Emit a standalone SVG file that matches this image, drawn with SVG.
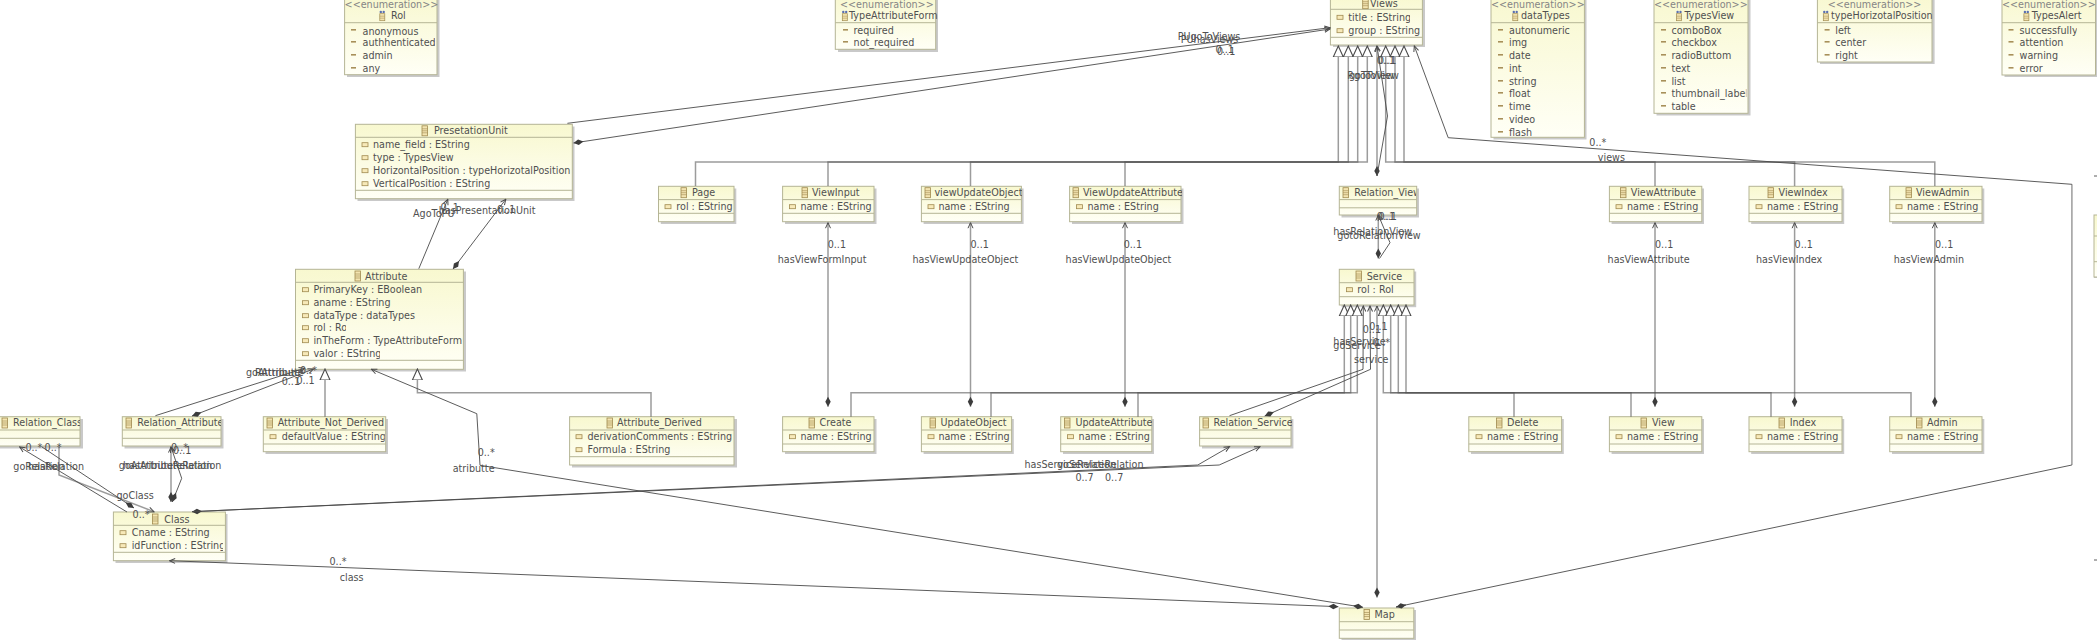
<svg xmlns="http://www.w3.org/2000/svg" width="2097" height="640" viewBox="0 0 2097 640">
<style>
text{font-family:"DejaVu Sans","Liberation Sans",sans-serif;font-size:9.6px;fill:#505050}
.st{fill:#858585}
.s{fill:#c9c9c9}
.b{fill:url(#nf);stroke:#b5b595;stroke-width:1}
.d{stroke:#b5b595;stroke-width:1}
.g{fill:none;stroke:#555;stroke-opacity:.58;stroke-width:1.5}
.a{fill:none;stroke:#4a4a4a;stroke-width:.9}
.gen{marker-end:url(#tri)}
.ar{marker-end:url(#arr)}
.di{marker-start:url(#dia)}
</style>
<defs>
<linearGradient id="nf" x1="0" y1="0" x2="0" y2="1"><stop offset="0" stop-color="#f8f8cf"/><stop offset="1" stop-color="#fffff6"/></linearGradient>
<marker id="tri" viewBox="0 -6 12 12" refX="0" refY="0" markerWidth="12" markerHeight="12" markerUnits="userSpaceOnUse" orient="auto"><path d="M0,-5L11,0L0,5z" fill="#fff" stroke="#4a4a4a" stroke-width="1.1"/></marker>
<marker id="arr" viewBox="-7 -4 8 8" refX="0" refY="0" markerWidth="8" markerHeight="8" markerUnits="userSpaceOnUse" orient="auto"><path d="M-5.5,-2.5L0,0L-5.5,2.5" fill="none" stroke="#4a4a4a" stroke-width="1"/></marker>
<marker id="dia" viewBox="0 -4 12 8" refX="0" refY="0" markerWidth="12" markerHeight="8" markerUnits="userSpaceOnUse" orient="auto"><path d="M0,0L5,-2.7L10,0L5,2.7z" fill="#3c3c3c"/></marker>
<g id="ci"><rect x="0" y="0" width="5.5" height="10" fill="#f3e4b0" stroke="#a08a50" stroke-width=".8"/><path d="M0,3H5.5M0,5H5.5M0,7H5.5" stroke="#a08a50" stroke-width=".6"/></g>
<g id="en"><circle cx="1.3" cy="1.2" r="1.2" fill="#5a6fb0"/><circle cx="4.2" cy="1.2" r="1.2" fill="#5a6fb0"/><rect x=".3" y="3" width="5" height="7" fill="#f3e4b0" stroke="#a08a50" stroke-width=".7"/><path d="M.3,5.5H5.3M.3,7.5H5.3" stroke="#a08a50" stroke-width=".5"/></g>
<rect id="ai" width="6" height="4" fill="#f7e9b8" stroke="#a08a50" stroke-width=".8"/>
<rect id="li" width="5" height="1.6" fill="#a8905a"/>
<clipPath id="k435"><rect x="0" y="-10" width="435" height="660"/></clipPath>
<clipPath id="k570"><rect x="0" y="-10" width="570.5" height="660"/></clipPath>
<clipPath id="k490"><rect x="0" y="-10" width="490" height="660"/></clipPath>
<clipPath id="k346"><rect x="0" y="-10" width="346" height="660"/></clipPath>
<clipPath id="k380"><rect x="0" y="-10" width="380" height="660"/></clipPath>
<clipPath id="k82"><rect x="0" y="-10" width="80" height="660"/></clipPath>
<clipPath id="k221"><rect x="0" y="-10" width="221" height="660"/></clipPath>
<clipPath id="k385"><rect x="0" y="-10" width="384.8" height="660"/></clipPath>
<clipPath id="k734"><rect x="0" y="-10" width="733" height="660"/></clipPath>
<clipPath id="k223"><rect x="0" y="-10" width="223" height="660"/></clipPath>
<clipPath id="k1410"><rect x="0" y="-10" width="1410" height="660"/></clipPath>
<clipPath id="k1420"><rect x="0" y="-10" width="1420" height="660"/></clipPath>
<clipPath id="k1415"><rect x="0" y="-10" width="1416" height="660"/></clipPath>
<clipPath id="k1292"><rect x="0" y="-10" width="1292" height="660"/></clipPath>
<clipPath id="k1746"><rect x="0" y="-10" width="1746.4" height="660"/></clipPath>
<clipPath id="k1933"><rect x="0" y="-10" width="1933" height="660"/></clipPath>
<clipPath id="k2077"><rect x="0" y="-10" width="2076.8" height="660"/></clipPath>
<clipPath id="k1152"><rect x="0" y="-10" width="1152" height="660"/></clipPath>
<clipPath id="k1021"><rect x="0" y="-10" width="1022" height="660"/></clipPath>
<clipPath id="k1181"><rect x="0" y="-10" width="1182" height="660"/></clipPath>
</defs>
<rect width="2097" height="640" fill="#fff"/>

<g id="n-Rol"><rect class="s" x="347" y="-3" width="92.5" height="80"/><rect class="b" x="344.6" y="-5" width="92.4" height="79.7"/><line class="d" x1="344.6" x2="437" y1="22.7" y2="22.7"/>
<text class="st" x="344.6" y="7.5">&lt;&lt;enumeration&gt;&gt;</text><use href="#en" x="379.5" y="10.7"/><text x="391" y="19.2">Rol</text>
<use href="#li" x="351" y="29"/><text x="362.5" y="34.5">anonymous</text>
<use href="#li" x="351" y="41"/><text x="362.5" y="46.2" clip-path="url(#k435)">authhenticated</text>
<use href="#li" x="351" y="54"/><text x="362.5" y="59.2">admin</text>
<use href="#li" x="351" y="67"/><text x="362.5" y="72.2">any</text></g>

<g id="n-TypeAttributeForm"><rect class="s" x="838" y="-3" width="100" height="55"/><rect class="b" x="835.3" y="-5" width="100.4" height="54.3"/><line class="d" x1="835.3" x2="935.7" y1="22.7" y2="22.7"/>
<text class="st" x="840" y="7.5">&lt;&lt;enumeration&gt;&gt;</text><use href="#en" x="842" y="10.7"/><text x="849" y="19.2">TypeAttributeForm</text>
<use href="#li" x="843" y="29"/><text x="853.6" y="34.2">required</text>
<use href="#li" x="843" y="41"/><text x="853.6" y="46.2">not_required</text></g>

<g id="n-Views"><rect class="s" x="1333" y="-2" width="92" height="49"/><rect class="b" x="1330.4" y="-4" width="92" height="49"/><line class="d" x1="1330.4" x2="1422.4" y1="9.3" y2="9.3"/><line class="d" x1="1330.4" x2="1422.4" y1="37.3" y2="37.3"/>
<use href="#ci" x="1362.7" y="-1.3"/><text x="1370" y="7.2">Views</text>
<use href="#ai" x="1337" y="15.3"/><text x="1348.3" y="20.8" clip-path="url(#k1410)">title : EString</text>
<use href="#ai" x="1337" y="28.7"/><text x="1348.3" y="34.2" clip-path="url(#k1420)">group : EString</text></g>

<g id="n-dataTypes"><rect class="s" x="1493.5" y="-3" width="93" height="142.5"/><rect class="b" x="1491" y="-5" width="93.4" height="142.3"/><line class="d" x1="1491" x2="1584.4" y1="22.7" y2="22.7"/>
<text class="st" x="1491" y="7.5">&lt;&lt;enumeration&gt;&gt;</text><use href="#en" x="1512.5" y="10.7"/><text x="1521" y="19.2">dataTypes</text>
<use href="#li" x="1498" y="29"/><text x="1509" y="34.2">autonumeric</text>
<use href="#li" x="1498" y="41"/><text x="1509" y="46.2">img</text>
<use href="#li" x="1498" y="54"/><text x="1509" y="59.2">date</text>
<use href="#li" x="1498" y="67"/><text x="1509" y="72.2">int</text>
<use href="#li" x="1498" y="80"/><text x="1509" y="85.2">string</text>
<use href="#li" x="1498" y="92"/><text x="1509" y="97.2">float</text>
<use href="#li" x="1498" y="105"/><text x="1509" y="110.2">time</text>
<use href="#li" x="1498" y="118"/><text x="1509" y="123.2">video</text>
<use href="#li" x="1498" y="131"/><text x="1509" y="136.2">flash</text></g>

<g id="n-TypesView"><rect class="s" x="1656.5" y="-3" width="94" height="118.5"/><rect class="b" x="1654" y="-5" width="94" height="118.3"/><line class="d" x1="1654" x2="1748" y1="22.7" y2="22.7"/>
<text class="st" x="1654" y="7.5">&lt;&lt;enumeration&gt;&gt;</text><use href="#en" x="1676.3" y="10.7"/><text x="1684.4" y="19.2">TypesView</text>
<use href="#li" x="1661" y="29"/><text x="1671.4" y="34.2">comboBox</text>
<use href="#li" x="1661" y="41"/><text x="1671.4" y="46.2">checkbox</text>
<use href="#li" x="1661" y="54"/><text x="1671.4" y="59.2">radioButtom</text>
<use href="#li" x="1661" y="67"/><text x="1671.4" y="72.2">text</text>
<use href="#li" x="1661" y="80"/><text x="1671.4" y="85.2">list</text>
<use href="#li" x="1661" y="92"/><text x="1671.4" y="97.2" clip-path="url(#k1746)">thumbnail_label</text>
<use href="#li" x="1661" y="105"/><text x="1671.4" y="110.2">table</text></g>

<g id="n-typeHorizotalPosition"><rect class="s" x="1820" y="-3" width="114.6" height="67"/><rect class="b" x="1817.4" y="-5" width="114.6" height="67"/><line class="d" x1="1817.4" x2="1932" y1="22.7" y2="22.7"/>
<text class="st" x="1827.7" y="7.5">&lt;&lt;enumeration&gt;&gt;</text><use href="#en" x="1823" y="10.7"/><text x="1831" y="19.2" clip-path="url(#k1933)">typeHorizotalPosition</text>
<use href="#li" x="1824.6" y="29"/><text x="1835.3" y="34.2">left</text>
<use href="#li" x="1824.6" y="41"/><text x="1835.3" y="46.2">center</text>
<use href="#li" x="1824.6" y="54"/><text x="1835.3" y="59.2">right</text></g>

<g id="n-TypesAlert"><rect class="s" x="2004.5" y="-3" width="93" height="80"/><rect class="b" x="2002" y="-5" width="93.5" height="80"/><line class="d" x1="2002" x2="2095.5" y1="22.7" y2="22.7"/>
<text class="st" x="2002" y="7.5">&lt;&lt;enumeration&gt;&gt;</text><use href="#en" x="2023.6" y="10.7"/><text x="2031.7" y="19.2">TypesAlert</text>
<use href="#li" x="2008.5" y="29"/><text x="2019.6" y="34.2" clip-path="url(#k2077)">successfully</text>
<use href="#li" x="2008.5" y="41"/><text x="2019.6" y="46.2">attention</text>
<use href="#li" x="2008.5" y="54"/><text x="2019.6" y="59.2">warning</text>
<use href="#li" x="2008.5" y="67"/><text x="2019.6" y="72.2">error</text></g>

<g id="n-PresetationUnit"><rect class="s" x="357.5" y="126.5" width="217" height="74.5"/><rect class="b" x="355.4" y="124.3" width="216.9" height="74.4"/><line class="d" x1="355.4" x2="572.3" y1="137.3" y2="137.3"/><line class="d" x1="355.4" x2="572.3" y1="190.3" y2="190.3"/>
<use href="#ci" x="422" y="125.8"/><text x="434" y="134.3">PresetationUnit</text>
<use href="#ai" x="362" y="142.7"/><text x="373" y="148.2">name_field : EString</text>
<use href="#ai" x="362" y="155.7"/><text x="373" y="161.2">type : TypesView</text>
<use href="#ai" x="362" y="168.7"/><text x="373" y="174.2" clip-path="url(#k570)">HorizontalPosition : typeHorizotalPosition</text>
<use href="#ai" x="362" y="181.7"/><text x="373" y="187.2" clip-path="url(#k490)">VerticalPosition : EString</text></g>

<g id="n-Attribute"><rect class="s" x="298" y="271.5" width="168" height="100"/><rect class="b" x="295.5" y="269.3" width="167.9" height="100"/><line class="d" x1="295.5" x2="463.4" y1="282.3" y2="282.3"/><line class="d" x1="295.5" x2="463.4" y1="360.3" y2="360.3"/>
<use href="#ci" x="355" y="271"/><text x="365" y="279.5">Attribute</text>
<use href="#ai" x="302.5" y="287.7"/><text x="313.4" y="293.2">PrimaryKey : EBoolean</text>
<use href="#ai" x="302.5" y="300.7"/><text x="313.4" y="306.2">aname : EString</text>
<use href="#ai" x="302.5" y="313.7"/><text x="313.4" y="319.2">dataType : dataTypes</text>
<use href="#ai" x="302.5" y="325.7"/><text x="313.4" y="331.2" clip-path="url(#k346)">rol : Rol</text>
<use href="#ai" x="302.5" y="338.7"/><text x="313.4" y="344.2">inTheForm : TypeAttributeForm</text>
<use href="#ai" x="302.5" y="351.7"/><text x="313.4" y="357.2" clip-path="url(#k380)">valor : EString</text></g>

<g id="n-Relation_Class"><rect class="s" x="0" y="419" width="83" height="29.5"/><rect class="b" x="-1" y="416.7" width="81" height="29.3"/><line class="d" x1="-1" x2="80" y1="430" y2="430"/><line class="d" x1="-1" x2="80" y1="438.3" y2="438.3"/>
<use href="#ci" x="2" y="418"/><text x="13" y="426.2" clip-path="url(#k82)">Relation_Class</text></g>

<g id="n-Relation_Attribute"><rect class="s" x="124.5" y="419" width="99" height="29.5"/><rect class="b" x="122.3" y="416.7" width="98.7" height="29.3"/><line class="d" x1="122.3" x2="221" y1="430" y2="430"/><line class="d" x1="122.3" x2="221" y1="438.3" y2="438.3"/>
<use href="#ci" x="126" y="418"/><text x="137.3" y="426.2" clip-path="url(#k221)">Relation_Attribute</text></g>

<g id="n-Attribute_Not_Derived"><rect class="s" x="265.5" y="419" width="122.5" height="35"/><rect class="b" x="263.3" y="416.7" width="122.4" height="35"/><line class="d" x1="263.3" x2="385.7" y1="430" y2="430"/><line class="d" x1="263.3" x2="385.7" y1="444" y2="444"/>
<use href="#ci" x="267" y="418"/><text x="277.7" y="426.2">Attribute_Not_Derived</text>
<use href="#ai" x="270" y="434.7"/><text x="281.7" y="440.2" clip-path="url(#k385)">defaultValue : EString</text></g>

<g id="n-Attribute_Derived"><rect class="s" x="572" y="419" width="165" height="48.5"/><rect class="b" x="569.6" y="416.7" width="164.4" height="48.3"/><line class="d" x1="569.6" x2="734" y1="430" y2="430"/><line class="d" x1="569.6" x2="734" y1="456.7" y2="456.7"/>
<use href="#ci" x="607" y="418"/><text x="617" y="426.2">Attribute_Derived</text>
<use href="#ai" x="576" y="434.7"/><text x="587.5" y="440.2" clip-path="url(#k734)">derivationComments : EString</text>
<use href="#ai" x="576" y="447.7"/><text x="587.5" y="453.2">Formula : EString</text></g>

<g id="n-Class"><rect class="s" x="115.5" y="514" width="112" height="49"/><rect class="b" x="113.4" y="512" width="112" height="48.7"/><line class="d" x1="113.4" x2="225.4" y1="525.3" y2="525.3"/><line class="d" x1="113.4" x2="225.4" y1="552.3" y2="552.3"/>
<use href="#ci" x="152.5" y="514"/><text x="164.3" y="522.5">Class</text>
<use href="#ai" x="120" y="530.7"/><text x="131.7" y="536.2">Cname : EString</text>
<use href="#ai" x="120" y="543.7"/><text x="131.7" y="549.2" clip-path="url(#k223)">idFunction : EString</text></g>

<g id="n-Page"><rect class="s" x="660.8" y="188.5" width="75.5" height="35.5"/><rect class="b" x="658.5" y="186.3" width="75.5" height="35.4"/><line class="d" x1="658.5" x2="734" y1="199.6" y2="199.6"/><line class="d" x1="658.5" x2="734" y1="213.3" y2="213.3"/>
<use href="#ci" x="681" y="187.7"/><text x="692" y="196.2">Page</text>
<use href="#ai" x="665" y="204.7"/><text x="676.3" y="210.2" clip-path="url(#k734)">rol : EString</text></g>

<g id="n-ViewInput"><rect class="s" x="785" y="188.5" width="91.5" height="35.5"/><rect class="b" x="782.6" y="186.3" width="91.4" height="35.4"/><line class="d" x1="782.6" x2="874" y1="199.6" y2="199.6"/><line class="d" x1="782.6" x2="874" y1="213.3" y2="213.3"/>
<use href="#ci" x="802" y="187.7"/><text x="812" y="196.2">ViewInput</text>
<use href="#ai" x="789.5" y="204.7"/><text x="800.4" y="210.2">name : EString</text></g>

<g id="n-viewUpdateObject"><rect class="s" x="923.6" y="188.5" width="100" height="35.5"/><rect class="b" x="921.4" y="186.3" width="100" height="35.4"/><line class="d" x1="921.4" x2="1021.4" y1="199.6" y2="199.6"/><line class="d" x1="921.4" x2="1021.4" y1="213.3" y2="213.3"/>
<use href="#ci" x="925" y="187.7"/><text x="934.4" y="196.2" clip-path="url(#k1021)">viewUpdateObject</text>
<use href="#ai" x="928" y="204.7"/><text x="938.4" y="210.2">name : EString</text></g>

<g id="n-ViewUpdateAttribute"><rect class="s" x="1072" y="188.5" width="111.5" height="35.5"/><rect class="b" x="1069.6" y="186.3" width="111.4" height="35.4"/><line class="d" x1="1069.6" x2="1181" y1="199.6" y2="199.6"/><line class="d" x1="1069.6" x2="1181" y1="213.3" y2="213.3"/>
<use href="#ci" x="1073" y="187.7"/><text x="1083" y="196.2" clip-path="url(#k1181)">ViewUpdateAttribute</text>
<use href="#ai" x="1076.5" y="204.7"/><text x="1087.5" y="210.2">name : EString</text></g>

<g id="n-Relation_View"><rect class="s" x="1341.5" y="188.5" width="77.5" height="29"/><rect class="b" x="1339.3" y="186.3" width="77.4" height="28.7"/><line class="d" x1="1339.3" x2="1416.7" y1="199.6" y2="199.6"/><line class="d" x1="1339.3" x2="1416.7" y1="207.8" y2="207.8"/>
<use href="#ci" x="1343" y="187.7"/><text x="1354.3" y="196.2" clip-path="url(#k1415)">Relation_View</text></g>

<g id="n-Service"><rect class="s" x="1341.5" y="271.5" width="74.7" height="35.7"/><rect class="b" x="1339.3" y="269.3" width="74.7" height="35.7"/><line class="d" x1="1339.3" x2="1414" y1="282.7" y2="282.7"/><line class="d" x1="1339.3" x2="1414" y1="296.7" y2="296.7"/>
<use href="#ci" x="1356" y="271"/><text x="1366.7" y="279.5">Service</text>
<use href="#ai" x="1346.5" y="287.7"/><text x="1357.3" y="293.2">rol : Rol</text></g>

<g id="n-ViewAttribute"><rect class="s" x="1611.6" y="188.5" width="92.4" height="35.5"/><rect class="b" x="1609.4" y="186.3" width="92.4" height="35.4"/><line class="d" x1="1609.4" x2="1701.8" y1="199.6" y2="199.6"/><line class="d" x1="1609.4" x2="1701.8" y1="213.3" y2="213.3"/>
<use href="#ci" x="1620.5" y="187.7"/><text x="1630.8" y="196.2">ViewAttribute</text>
<use href="#ai" x="1616" y="204.7"/><text x="1627" y="210.2">name : EString</text></g>

<g id="n-ViewIndex"><rect class="s" x="1751.2" y="188.5" width="93" height="35.5"/><rect class="b" x="1749" y="186.3" width="93" height="35.4"/><line class="d" x1="1749" x2="1842" y1="199.6" y2="199.6"/><line class="d" x1="1749" x2="1842" y1="213.3" y2="213.3"/>
<use href="#ci" x="1768" y="187.7"/><text x="1778.6" y="196.2">ViewIndex</text>
<use href="#ai" x="1756" y="204.7"/><text x="1767" y="210.2">name : EString</text></g>

<g id="n-ViewAdmin"><rect class="s" x="1892" y="188.5" width="92.3" height="35.5"/><rect class="b" x="1889.7" y="186.3" width="92.3" height="35.4"/><line class="d" x1="1889.7" x2="1982" y1="199.6" y2="199.6"/><line class="d" x1="1889.7" x2="1982" y1="213.3" y2="213.3"/>
<use href="#ci" x="1906" y="187.7"/><text x="1916" y="196.2">ViewAdmin</text>
<use href="#ai" x="1896" y="204.7"/><text x="1907" y="210.2">name : EString</text></g>

<g id="n-Create"><rect class="s" x="785" y="419" width="91.5" height="35"/><rect class="b" x="782.6" y="416.7" width="91.4" height="35"/><line class="d" x1="782.6" x2="874" y1="430" y2="430"/><line class="d" x1="782.6" x2="874" y1="444" y2="444"/>
<use href="#ci" x="809" y="418"/><text x="819.6" y="426.2">Create</text>
<use href="#ai" x="789.5" y="434.7"/><text x="800.4" y="440.2">name : EString</text></g>

<g id="n-UpdateObject"><rect class="s" x="923.6" y="419" width="90.2" height="35"/><rect class="b" x="921.4" y="416.7" width="90.2" height="35"/><line class="d" x1="921.4" x2="1011.6" y1="430" y2="430"/><line class="d" x1="921.4" x2="1011.6" y1="444" y2="444"/>
<use href="#ci" x="930" y="418"/><text x="940.6" y="426.2">UpdateObject</text>
<use href="#ai" x="928" y="434.7"/><text x="938.4" y="440.2">name : EString</text></g>

<g id="n-UpdateAttribute"><rect class="s" x="1063" y="419" width="91" height="35"/><rect class="b" x="1060.7" y="416.7" width="91.1" height="35"/><line class="d" x1="1060.7" x2="1151.8" y1="430" y2="430"/><line class="d" x1="1060.7" x2="1151.8" y1="444" y2="444"/>
<use href="#ci" x="1064.5" y="418"/><text x="1075.4" y="426.2" clip-path="url(#k1152)">UpdateAttribute</text>
<use href="#ai" x="1067.5" y="434.7"/><text x="1078.6" y="440.2">name : EString</text></g>

<g id="n-Relation_Service"><rect class="s" x="1202" y="419" width="91.4" height="29.5"/><rect class="b" x="1199.6" y="416.7" width="91.4" height="29.3"/><line class="d" x1="1199.6" x2="1291" y1="430" y2="430"/><line class="d" x1="1199.6" x2="1291" y1="438.3" y2="438.3"/>
<use href="#ci" x="1203" y="418"/><text x="1213.4" y="426.2" clip-path="url(#k1292)">Relation_Service</text></g>

<g id="n-Delete"><rect class="s" x="1471" y="419" width="92.8" height="35"/><rect class="b" x="1468.8" y="416.7" width="92.8" height="35"/><line class="d" x1="1468.8" x2="1561.6" y1="430" y2="430"/><line class="d" x1="1468.8" x2="1561.6" y1="444" y2="444"/>
<use href="#ci" x="1496.5" y="418"/><text x="1507" y="426.2">Delete</text>
<use href="#ai" x="1476" y="434.7"/><text x="1487" y="440.2">name : EString</text></g>

<g id="n-View"><rect class="s" x="1611.6" y="419" width="92.4" height="35"/><rect class="b" x="1609.4" y="416.7" width="92.4" height="35"/><line class="d" x1="1609.4" x2="1701.8" y1="430" y2="430"/><line class="d" x1="1609.4" x2="1701.8" y1="444" y2="444"/>
<use href="#ci" x="1641" y="418"/><text x="1652" y="426.2">View</text>
<use href="#ai" x="1616" y="434.7"/><text x="1627" y="440.2">name : EString</text></g>

<g id="n-Index"><rect class="s" x="1751.2" y="419" width="93" height="35"/><rect class="b" x="1749" y="416.7" width="93" height="35"/><line class="d" x1="1749" x2="1842" y1="430" y2="430"/><line class="d" x1="1749" x2="1842" y1="444" y2="444"/>
<use href="#ci" x="1779" y="418"/><text x="1789.7" y="426.2">Index</text>
<use href="#ai" x="1756" y="434.7"/><text x="1767" y="440.2">name : EString</text></g>

<g id="n-Admin"><rect class="s" x="1892" y="419" width="92.3" height="35"/><rect class="b" x="1889.7" y="416.7" width="92.3" height="35"/><line class="d" x1="1889.7" x2="1982" y1="430" y2="430"/><line class="d" x1="1889.7" x2="1982" y1="444" y2="444"/>
<use href="#ci" x="1916.5" y="418"/><text x="1927" y="426.2">Admin</text>
<use href="#ai" x="1896" y="434.7"/><text x="1907" y="440.2">name : EString</text></g>

<g id="n-Map"><rect class="s" x="1341.5" y="610" width="74.5" height="30"/><rect class="b" x="1339.3" y="608" width="74.5" height="30.3"/><line class="d" x1="1339.3" x2="1413.8" y1="621.7" y2="621.7"/><line class="d" x1="1339.3" x2="1413.8" y1="630" y2="630"/>
<use href="#ci" x="1364" y="609.5"/><text x="1374.5" y="618">Map</text></g>

<g id="n-edge"><rect class="s" x="2094" y="276" width="3" height="2"/><rect class="b" x="2094" y="215" width="6" height="62"/><line class="d" x1="2094" x2="2097" y1="236" y2="236"/><line class="d" x1="2094" x2="2097" y1="261.7" y2="261.7"/></g>

<g id="connectors">
<!-- generalizations to Views -->
<path class="g gen" d="M695.5,186V162H1338.3V57"/>
<path class="g gen" d="M828,186V162H1348.3V57"/>
<path class="g gen" d="M970.5,186V162H1357.7V57"/>
<path class="g gen" d="M1125,186V162H1367.3V57"/>
<path class="g gen" d="M1655,186V162H1385.7V57"/>
<path class="g gen" d="M1794.6,186V162H1395V57"/>
<path class="g gen" d="M1934.8,186V162H1404V57"/>
<!-- generalizations to Service -->
<path class="g gen" d="M851,416.7V392.7H1344.3V316"/>
<path class="g gen" d="M991,416.7V392.7H1350.7V316"/>
<path class="g gen" d="M1138,416.7V392.7H1357.3V316"/>
<path class="g gen" d="M1514,416.7V392.7H1383.3V316"/>
<path class="g gen" d="M1631,416.7V392.7H1390.7V316"/>
<path class="g gen" d="M1771,416.7V392.7H1398.3V316"/>
<path class="g gen" d="M1911,416.7V392.7H1406V316"/>
<!-- generalizations to Attribute -->
<path class="g gen" d="M325,416.7V380"/>
<path class="g gen" d="M651,416.7V392.7H417.4V380"/>
<!-- compositions to view panels -->
<path class="g di ar" d="M828,406.7V222.7"/>
<path class="g di ar" d="M970.5,406.7V222.7"/>
<path class="g di ar" d="M1125,406.7V222.7"/>
<path class="g di ar" d="M1655,406.7V222.7"/>
<path class="g di ar" d="M1794.6,406.7V222.7"/>
<path class="g di ar" d="M1934.8,406.7V222.7"/>
<!-- Relation_View / Service / Views -->
<path class="g di ar" d="M1377,176V46"/>
<path class="a ar" d="M1377,176L1387.5,116L1377,46"/>
<path class="g di ar" d="M1378.3,258.5V215"/>
<path class="a ar" d="M1379.5,258.5L1390,242.7L1378.3,215"/>
<path class="g di ar" d="M1377,597.5V306"/>
<path class="a ar" d="M1229.5,415.7L1363,369.3L1363.3,306"/>
<path class="a di ar" d="M1264.7,416L1370.5,369.3L1370,306"/>
<!-- Class to Relation_Service -->
<path class="a di ar" d="M192,511.7L1197.8,465L1229.5,446.7"/>
<path class="a ar" d="M192,511.7L1219.2,465L1260,446.7"/>
<!-- Views to PresetationUnit -->
<path class="a ar" d="M567.4,123.3L1330,27.7"/>
<path class="a di ar" d="M573.5,143L1330,29"/>
<!-- Attribute to PresetationUnit -->
<path class="a ar" d="M418.8,268.7L447.8,199.3"/>
<path class="a di ar" d="M453,269L505.8,199.3"/>
<!-- Relation_Attribute to Attribute -->
<path class="a ar" d="M155.4,415.7L304.5,368.3"/>
<path class="a di ar" d="M192,416L313.4,369"/>
<!-- Relation_Class and Relation_Attribute to Class -->
<path class="a ar" d="M127,512L19.6,447"/>
<path class="a di" d="M134,508L42,447"/>
<path class="g ar" d="M59,447V475L154,511.7"/>
<path class="g di ar" d="M171,502V447"/>
<path class="a di ar" d="M172.3,502L181.7,478.3L171,447"/>
<!-- Map -->
<path class="a di ar" d="M1363,607.3L480,465.3L476.8,413.7L371.4,369.3"/>
<path class="a di ar" d="M1338.4,606.7L169.6,560.7"/>
<path class="a" d="M1396,607L2071.9,465"/>
<path class="g" d="M2071.9,465V184.3"/>
<path class="a ar" d="M2071.9,184.3L1448.2,137.7L1414.3,46"/>
<path class="a di" d="M1406,604.9L1396,607"/>
<path class="a" d="M2094,176H2097M2094,560H2097" stroke-width="1.5"/>
<!-- labels -->
<text x="1177.7" y="40.2">PUgoToViews</text><text x="1180.8" y="43.2">PUhasViews</text><text x="1215.6" y="52.8">0..1</text><text x="1217" y="55.2">0..1</text>
<text x="413" y="217.2">AgoToPU</text><text x="438.8" y="214.2">hasPresentationUnit</text><text x="440.5" y="210.5">0..1</text><text x="497" y="212.5">0..1</text>
<text x="777.7" y="263.2">hasViewFormInput</text><text x="827.7" y="248.2">0..1</text>
<text x="912.5" y="263.2">hasViewUpdateObject</text><text x="970.5" y="248.2">0..1</text>
<text x="1065.6" y="263.2">hasViewUpdateObject</text><text x="1123.7" y="248.2">0..1</text>
<text x="1607.6" y="263.2">hasViewAttribute</text><text x="1655" y="248.2">0..1</text>
<text x="1756" y="263.2">hasViewIndex</text><text x="1794.6" y="248.2">0..1</text>
<text x="1893.7" y="263.2">hasViewAdmin</text><text x="1935" y="248.2">0..1</text>
<text x="1347.3" y="79.2">RgoToView</text><text x="1349" y="79.2">goToView</text><text x="1376.7" y="63.5">0..1</text><text x="1378" y="63.5">0..1</text>
<text x="1376.7" y="219.5">0..1</text><text x="1378.5" y="219.5">0..1</text><text x="1333.3" y="235.2">hasRelationView</text><text x="1337.3" y="238.5">gotoRelationView</text>
<text x="1362.7" y="332.8">0..1</text><text x="1369.3" y="330.2">0..1</text><text x="1333.3" y="345.2">hasService</text><text x="1333.3" y="349.2">goService</text><text x="1373" y="345.5">0..*</text><text x="1354" y="362.5">service</text>
<text x="1589.3" y="146.2">0..*</text><text x="1597.8" y="161.2">views</text>
<text x="246" y="376.2">goAttribute</text><text x="255" y="376.2">RAttribute</text><text x="281.7" y="385.2">0..1</text><text x="296.4" y="384.2">0..1</text><text x="300" y="374">0..*</text>
<text x="477.7" y="455.8">0..*</text><text x="452.7" y="471.5">atributte</text>
<text x="329.5" y="565.2">0..*</text><text x="339.7" y="580.5">class</text>
<text x="1024.5" y="468.2">hasServiceRelation</text><text x="1057" y="468.2">goServiceRelation</text><text x="1075.4" y="481.2">0..7</text><text x="1105" y="481.2">0..7</text>
<text x="25.4" y="451.2">0..*</text><text x="44.6" y="451.2">0..*</text><text x="13.3" y="470.2">goRelation</text><text x="28" y="470.2">hasRelation</text><text x="116.5" y="498.5">goClass</text><text x="132.6" y="517.5">0..*</text>
<text x="171" y="450.5">0..*</text><text x="173" y="453.5">0..1</text><text x="118.8" y="469.2">goAttributeRelation</text><text x="123" y="469.2">hasAttributeRelation</text>
</g>
</svg>
